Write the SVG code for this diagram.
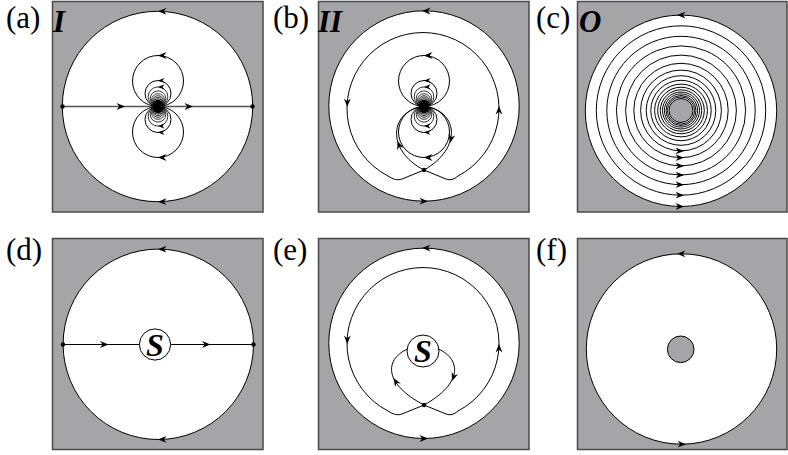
<svg xmlns="http://www.w3.org/2000/svg" xmlns:xlink="http://www.w3.org/1999/xlink" width="788" height="455" viewBox="0 0 788 455">
<style>
.bg{fill:#ffffff}
.sq{fill:#a5a5a8;stroke:#4a4a4a;stroke-width:1.5}
.disk{fill:#ffffff;stroke:#000;stroke-width:1}
.ln{fill:none;stroke:#000;stroke-width:1}
.thin{fill:none;stroke:#000;stroke-width:0.8}
.axis{fill:none;stroke:#555;stroke-width:1.6}
.hole{fill:#a5a5a8;stroke:#000;stroke-width:1}
</style>
<defs>
<path id="ah" d="M0,0 L-8.5,-3.4 L-5.8,0 L-8.5,3.4 Z" fill="#000"/>
<path id="ahs" d="M0,0 L-6.5,-2.6 L-4.5,0 L-6.5,2.6 Z" fill="#000"/>
<g id="dipole">
<circle cx="0" cy="-25.5" r="25.5" class="ln"/>
<circle cx="0" cy="-13" r="13" class="ln"/>
<circle cx="0" cy="-9.8" r="9.8" class="thin"/>
<circle cx="0" cy="-7.8" r="7.8" class="thin"/>
<circle cx="0" cy="-6.4" r="6.4" class="thin"/>
<circle cx="0" cy="-5.4" r="5.4" class="thin"/>
<circle cx="0" cy="-4.6" r="4.6" class="thin"/>
<circle cx="0" cy="-3.9" r="3.9" class="thin"/>
<circle cx="0" cy="25.5" r="25.5" class="ln"/>
<circle cx="0" cy="13" r="13" class="ln"/>
<circle cx="0" cy="9.8" r="9.8" class="thin"/>
<circle cx="0" cy="7.8" r="7.8" class="thin"/>
<circle cx="0" cy="6.4" r="6.4" class="thin"/>
<circle cx="0" cy="5.4" r="5.4" class="thin"/>
<circle cx="0" cy="4.6" r="4.6" class="thin"/>
<circle cx="0" cy="3.9" r="3.9" class="thin"/>
<ellipse cx="0" cy="0" rx="5" ry="7" fill="#000"/>
<use xlink:href="#ah" transform="translate(0,-51) rotate(180)"/>
<use xlink:href="#ahs" transform="translate(0,-26) rotate(180)"/>
<use xlink:href="#ahs" transform="translate(0,-19.6) rotate(180)"/>
<use xlink:href="#ah" transform="translate(0,51) rotate(180)"/>
<use xlink:href="#ahs" transform="translate(0,26) rotate(180)"/>
<use xlink:href="#ahs" transform="translate(0,19.6) rotate(180)"/>
</g>
</defs>
<rect class="bg" x="0" y="0" width="788" height="455"/>

<g id="panel-a">
<rect class="sq" x="52.5" y="1.5" width="210.5" height="210.5"/>
<circle class="disk" cx="157.5" cy="106.5" r="95.2"/>
<use xlink:href="#ah" transform="translate(158,11.3) rotate(180)"/>
<use xlink:href="#ah" transform="translate(158,201.7) rotate(180)"/>
<line class="axis" x1="62.5" y1="106.5" x2="252.5" y2="106.5"/>
<use xlink:href="#ah" transform="translate(125,106.5)"/>
<use xlink:href="#ah" transform="translate(193,106.5)"/>
<use xlink:href="#dipole" transform="translate(158,106.5)"/>
<circle cx="62.5" cy="106.5" r="2.2" fill="#000"/>
<circle cx="252.5" cy="106.5" r="2.2" fill="#000"/>
<text x="6" y="28" font-family="Liberation Serif, Times New Roman, serif" font-size="31" fill="#000">(a)</text>
<text x="53" y="31.5" font-family="Liberation Serif, Times New Roman, serif" font-size="31" font-weight="bold" font-style="italic" fill="#000">I</text>
</g>

<g id="panel-b">
<rect class="sq" x="318.5" y="1.5" width="210.5" height="210.5"/>
<circle class="disk" cx="424" cy="106" r="95.2"/>
<use xlink:href="#ah" transform="translate(422,11) rotate(180)"/>
<use xlink:href="#ah" transform="translate(428,201.2)"/>
<path class="ln" d="M424,170 L402,179 Q396,181.5 388,176 A76,76 0 1 1 458,176 Q452,181.5 446,179 Z"/>
<use xlink:href="#ah" transform="translate(347.3,107) rotate(90)"/>
<use xlink:href="#ah" transform="translate(499,106) rotate(-90)"/>
<path class="ln" d="M424,106.5 C390,110 385,150 424,170"/>
<path class="ln" d="M424,106.5 C458,110 463,148 424,170"/>
<use xlink:href="#ah" transform="translate(397.5,141) rotate(-110)"/>
<use xlink:href="#ah" transform="translate(450,143) rotate(103)"/>
<use xlink:href="#dipole" transform="translate(424,106.5)"/>
<circle cx="424" cy="170" r="2.2" fill="#000"/>
<text x="273" y="28" font-family="Liberation Serif, Times New Roman, serif" font-size="31" fill="#000">(b)</text>
<text x="318" y="31.5" font-family="Liberation Serif, Times New Roman, serif" font-size="31" font-weight="bold" font-style="italic" fill="#000">II</text>
</g>

<g id="panel-c">
<rect class="sq" x="577.5" y="1.5" width="209.5" height="210.5"/>
<circle class="disk" cx="681" cy="110.8" r="95.7"/>
<g class="ln">
<circle cx="681" cy="110.5" r="84.7"/>
<circle cx="681" cy="110.5" r="74.2"/>
<circle cx="681" cy="110.5" r="64.6"/>
<circle cx="681" cy="110.5" r="55.4"/>
<circle cx="681" cy="110.5" r="47.2"/>
<circle cx="681" cy="110.5" r="40.4"/>
<circle cx="681" cy="110.5" r="34.8"/>
<circle cx="681" cy="110.5" r="30.2"/>
<circle cx="681" cy="110.5" r="26.4"/>
<circle cx="681" cy="110.5" r="23.3"/>
<circle cx="681" cy="110.5" r="20.7"/>
<circle cx="681" cy="110.5" r="18.5"/>
<circle cx="681" cy="110.5" r="16.6"/>
<circle cx="681" cy="110.5" r="15"/>
<circle cx="681" cy="110.5" r="13.6"/>
</g>
<circle class="hole" cx="681" cy="110.5" r="12"/>
<use xlink:href="#ah" transform="translate(677,15.1) rotate(180)"/>
<use xlink:href="#ah" transform="translate(684,206.5)"/>
<use xlink:href="#ah" transform="translate(684,195.2)"/>
<use xlink:href="#ah" transform="translate(684,184.7)"/>
<use xlink:href="#ah" transform="translate(684,175.1)"/>
<use xlink:href="#ah" transform="translate(684,165.9)"/>
<use xlink:href="#ah" transform="translate(684,157.7)"/>
<use xlink:href="#ah" transform="translate(684,150.9)"/>
<text x="536" y="28" font-family="Liberation Serif, Times New Roman, serif" font-size="31" fill="#000">(c)</text>
<text x="579" y="32" font-family="Liberation Serif, Times New Roman, serif" font-size="31" font-weight="bold" font-style="italic" fill="#000">O</text>
</g>

<g id="panel-d">
<rect class="sq" x="52.5" y="238.5" width="210.5" height="211"/>
<circle class="disk" cx="158.3" cy="344.3" r="95.2"/>
<use xlink:href="#ah" transform="translate(158,249.2) rotate(180)"/>
<use xlink:href="#ah" transform="translate(158,439.4) rotate(180)"/>
<line class="ln" x1="63" y1="344.5" x2="139.5" y2="344.5"/>
<line class="ln" x1="170.5" y1="344.5" x2="253.5" y2="344.5"/>
<use xlink:href="#ah" transform="translate(108.5,344.5)"/>
<use xlink:href="#ah" transform="translate(210.5,344.5)"/>
<circle class="disk" cx="155" cy="344.5" r="15.6"/>
<text x="155" y="355.5" text-anchor="middle" font-family="Liberation Serif, Times New Roman, serif" font-size="32" font-weight="bold" font-style="italic" fill="#000">S</text>
<circle cx="63" cy="344.5" r="2.2" fill="#000"/>
<circle cx="253.5" cy="344.5" r="2.2" fill="#000"/>
<text x="6" y="260" font-family="Liberation Serif, Times New Roman, serif" font-size="31" fill="#000">(d)</text>
</g>

<g id="panel-e">
<rect class="sq" x="318.5" y="238.5" width="210.5" height="211"/>
<circle class="disk" cx="424" cy="343.3" r="95.2"/>
<use xlink:href="#ah" transform="translate(422,248.1) rotate(180)"/>
<use xlink:href="#ah" transform="translate(428,438.5)"/>
<path class="ln" d="M424,405 L402,414 Q396,416.5 388,411 A76,76 0 1 1 458,411 Q452,416.5 446,414 Z"/>
<use xlink:href="#ah" transform="translate(347.3,344) rotate(90)"/>
<use xlink:href="#ah" transform="translate(499,344) rotate(-90)"/>
<path class="ln" d="M407.5,349 C384,360 384,384 424,405"/>
<path class="ln" d="M438.5,349 C462,360 462,384 424,405"/>
<use xlink:href="#ah" transform="translate(393.5,378) rotate(-122)"/>
<use xlink:href="#ah" transform="translate(452,381) rotate(110)"/>
<circle class="disk" cx="423" cy="351" r="16"/>
<text x="423" y="362" text-anchor="middle" font-family="Liberation Serif, Times New Roman, serif" font-size="32" font-weight="bold" font-style="italic" fill="#000">S</text>
<circle cx="424" cy="405" r="2.2" fill="#000"/>
<text x="273" y="260" font-family="Liberation Serif, Times New Roman, serif" font-size="31" fill="#000">(e)</text>
</g>

<g id="panel-f">
<rect class="sq" x="577.5" y="238.5" width="209.5" height="211"/>
<circle class="disk" cx="681.5" cy="349" r="95.2"/>
<use xlink:href="#ah" transform="translate(677,253.8) rotate(180)"/>
<use xlink:href="#ah" transform="translate(686,444.2)"/>
<circle class="hole" cx="680.7" cy="349.3" r="13.3"/>
<text x="536" y="260" font-family="Liberation Serif, Times New Roman, serif" font-size="31" fill="#000">(f)</text>
</g>
</svg>
